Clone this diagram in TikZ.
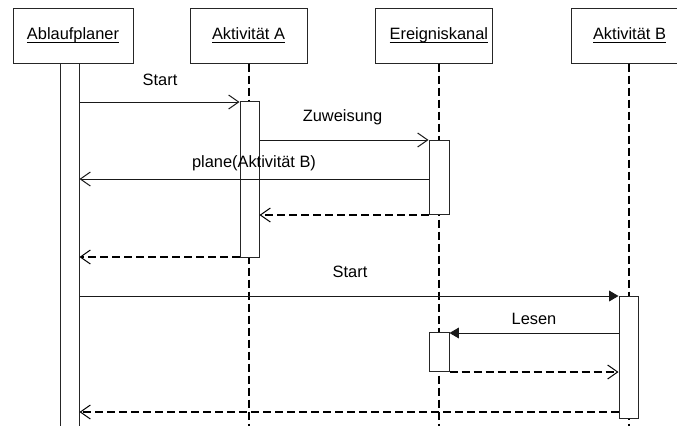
\documentclass[tikz,border=0pt]{standalone}
\usepackage{fontspec}
\setmainfont{Liberation Sans}
\usetikzlibrary{arrows.meta}
% object name with a drawn underline
\newcommand\objname[1]{\setbox0\hbox{#1}\rlap{\rule[-2.3pt]{\wd0}{0.7pt}}\box0}
\begin{document}
\begin{tikzpicture}[x=0.75pt,y=-0.75pt,
  every node/.style={font=\fontsize{12.3}{14}\selectfont},
  header/.style={draw=black!85, line width=0.75pt, fill=white,
    minimum width=87.75pt, minimum height=41.25pt, inner sep=0pt},
  bar/.style={draw=black!85, line width=0.75pt, fill=white,
    minimum width=14.25pt, inner sep=0pt, anchor=north},
  lifeline/.style={line width=1.5pt, dash pattern=on 6pt off 3pt},
  call/.style={line width=0.75pt, draw=black!90,
    -{Straight Barb[length=7.5pt,width=10.5pt,line width=0.75pt]}},
  sync/.style={line width=0.75pt, draw=black!90,
    -{Triangle[length=7pt,width=8pt]}},
  reply/.style={line width=1.5pt, dash pattern=on 6pt off 3pt,
    -{Straight Barb[length=7.5pt,width=10.5pt,line width=0.75pt]}},
  msglabel/.style={inner sep=1pt}
]
\useasboundingbox (0,0) rectangle (677,425);
\clip (0,0) rectangle (677,425);

% object headers
\node[header, minimum width=90pt] (hplan) at (73,35.5) {\objname{Ablaufplaner}};
\node[header] (hakta) at (248.5,35.5) {\objname{Aktivität A}};
\node[header] (hkanal) at (433.5,35.5) {\hspace*{8pt}\objname{Ereigniskanal}};
\node[header] (haktb) at (629.5,35.5) {\objname{Aktivität B}};

% bottom edge and message rows
\coordinate (bottom) at (0,432);
\coordinate (r1) at (0,102);
\coordinate (r2) at (0,140);
\coordinate (r3) at (0,179);
\coordinate (r4) at (0,215);
\coordinate (r5) at (0,257);
\coordinate (r6) at (0,296);
\coordinate (r7) at (0,333);
\coordinate (r8) at (0,372);
\coordinate (r9) at (0,412);

% lifeline axes
\coordinate (xa) at (249,0);
\coordinate (xk) at (439,0);
\coordinate (xb) at (629,0);
\draw[lifeline] (xa |- hakta.south) -- (xa |- bottom);
\draw[lifeline] (xk |- hkanal.south) -- (xk |- bottom);
\draw[lifeline] (xb |- haktb.south) -- (xb |- bottom);

% activation bars
\node[bar, minimum height=276pt] (plbar) at (69.5,63) {};
\node[bar, minimum height=117pt] (abar) at (249.5,101) {};
\node[bar, minimum width=15pt, minimum height=55.5pt] (kbar1) at (439,140) {};
\node[bar, minimum width=15pt, minimum height=29.25pt] (kbar2) at (439,332) {};
\node[bar, minimum height=91.5pt] (bbar) at (628.5,296) {};

% messages
\draw[call] (plbar.east |- r1) -- (abar.west |- r1);
\draw[call] (abar.east |- r2) -- (kbar1.west |- r2);
\draw[call] (kbar1.west |- r3) -- (plbar.east |- r3);
\draw[reply] (kbar1.west |- r4) -- (abar.east |- r4);
\draw[reply] (abar.west |- r5) -- (plbar.east |- r5);
\draw[sync] (plbar.east |- r6) -- (bbar.west |- r6);
\draw[sync] (bbar.west |- r7) -- (kbar2.east |- r7);
\draw[reply] (kbar2.east |- r8) -- (bbar.west |- r8);
\draw[reply] (bbar.west |- r9) -- (plbar.east |- r9);

% message labels
\node[msglabel] (lstart1) at (160,80) {Start};
\node[msglabel] (lzuw) at (342.5,117) {Zuweisung};
\node[msglabel] (lplane) at (254,163) {plane(Aktivität B)};
\node[msglabel] (lstart2) at (350,272) {Start};
\node[msglabel] (llesen) at (534,319) {Lesen};
\end{tikzpicture}
\end{document}
